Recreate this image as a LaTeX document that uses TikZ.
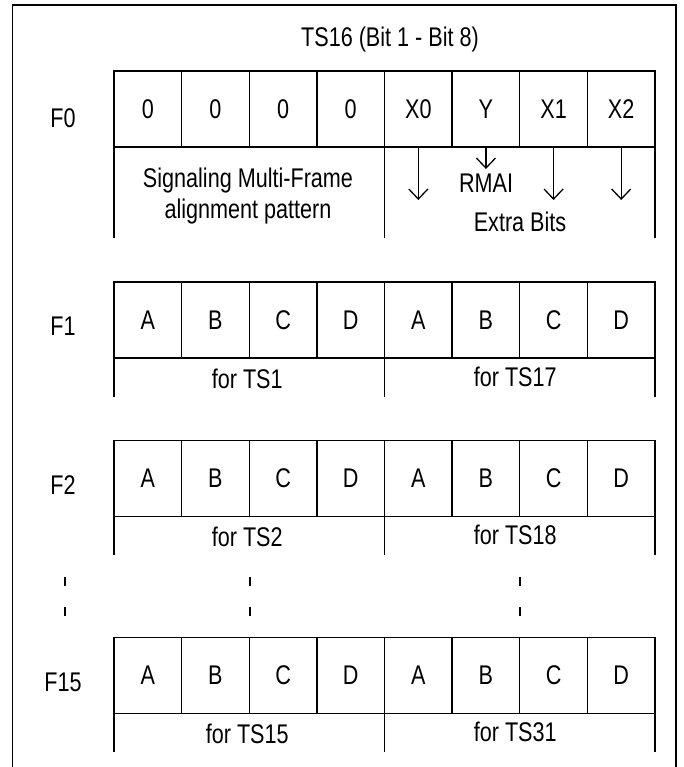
\documentclass[tikz,border=0pt]{standalone}
\usepackage{graphicx}
\usepackage{fontspec}
\setmainfont{Liberation Sans}
\usetikzlibrary{arrows.meta}
\newcommand{\vst}[1]{\scalebox{1}[1.25]{#1}}
\begin{document}
\begin{tikzpicture}[x=1pt,y=1pt,
  cell/.style={draw, line width=1.3pt, minimum width=67.625pt, minimum height=76pt, inner sep=0pt, outer sep=0pt, font=\fontsize{21.6}{26}\selectfont},
  lbl/.style={inner sep=0pt, outer sep=0pt, font=\fontsize{21.6}{31}\selectfont, align=center},
  gridline/.style={line width=1.3pt},
  framebox/.style={line width=1.8pt},
  downarrow/.style={line width=1.3pt, -{Straight Barb[length=10pt,width=19pt]}},
  dotmark/.style={line width=1.7pt, dash pattern=on 9pt off 21pt}]
\useasboundingbox (0,0) rectangle (683,-767);
\draw[framebox] (12.5,-767) -- (12.5,-5) -- (676,-5) -- (676,-767);
\node[lbl, anchor=base] (title) at (390,-47) {\vst{TS16 (Bit 1 - Bit 8)}};
% F0 row
\node[lbl] (f0) at (63,-118) {\vst{F0}};
\foreach \t [count=\i] in {0,0,0,0,X0,Y,X1,X2}
  \node[cell] (a\i) at ({114+67.625*(\i-0.5)}, -109) {\vst{\t}};
\draw[gridline] (a1.south west) -- ++(0,-91);
\draw[gridline] (a4.south east) -- ++(0,-91);
\draw[gridline] (a8.south east) -- ++(0,-91);
\node[lbl] (sig) at (248,-195.7) {\vst{Signaling Multi-Frame}\\\vst{alignment pattern}};
\coordinate (e5) at ([yshift=-53pt]a5.south);
\coordinate (e6) at ([yshift=-22pt]a6.south);
\coordinate (e7) at ([yshift=-53pt]a7.south);
\coordinate (e8) at ([yshift=-53pt]a8.south);
\draw[downarrow] (a5.south) -- (e5);
\draw[downarrow] (a6.south) -- (e6);
\draw[downarrow] (a7.south) -- (e7);
\draw[downarrow] (a8.south) -- (e8);
\node[lbl] (rmai) at (486,-183) {\vst{RMAI}};
\node[lbl] (extra) at (520,-222) {\vst{Extra Bits}};
% F1, F2, F15 rows
\foreach \r/\cy/\lab/\ly/\ta/\tb in {b/320/F1/326/1/17, c/478.5/F2/485/2/18, d/675.5/F15/682/15/31} {
  \foreach \t [count=\i] in {A,B,C,D,A,B,C,D}
    \node[cell] (\r\i) at ({114+67.625*(\i-0.5)}, -\cy) {\vst{\t}};
  \node[lbl] (\r-lab) at (63,-\ly) {\vst{\lab}};
  \draw[gridline] (\r1.south west) -- ++(0,-38.5);
  \draw[gridline] (\r4.south east) -- ++(0,-38.5);
  \draw[gridline] (\r8.south east) -- ++(0,-38.5);
  \node[lbl, anchor=base] (\r-ts1) at ([xshift=-2pt,yshift=-30pt]\r2.south east) {\vst{for TS\ta}};
  \node[lbl, anchor=base] (\r-ts2) at ([xshift=-4.5pt,yshift=-28pt]\r6.south east) {\vst{for TS\tb}};
}
% continuation marks
\foreach \x in {65,250,520}
  \draw[dotmark] (\x,-577) -- (\x,-616);
\end{tikzpicture}
\end{document}
